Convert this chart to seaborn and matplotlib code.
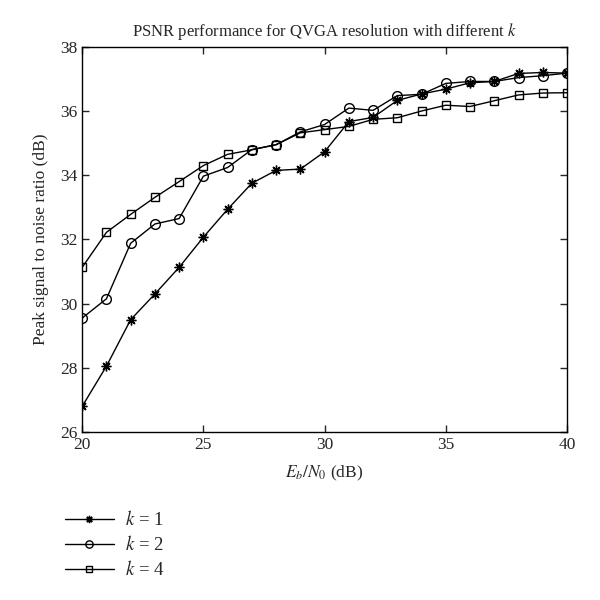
import matplotlib
matplotlib.use("Agg")
import matplotlib.pyplot as plt
import seaborn as sns
import numpy as np
import pandas as pd

# --- datos ---
ebn0 = list(range(20, 41))
psnr_k1 = [26.8, 28.05, 29.5, 30.3, 31.13, 32.07, 32.94, 33.75, 34.15, 34.19, 34.73,
           35.67, 35.8, 36.33, 36.53, 36.68, 36.88, 36.92, 37.17, 37.2, 37.18]
psnr_k2 = [29.55, 30.15, 31.88, 32.48, 32.65, 33.97, 34.24, 34.8, 34.95, 35.35, 35.58,
           36.09, 36.02, 36.48, 36.52, 36.86, 36.92, 36.92, 37.04, 37.1, 37.18]
psnr_k4 = [31.13, 32.22, 32.78, 33.31, 33.8, 34.3, 34.65, 34.79, 34.95, 35.32, 35.42,
           35.52, 35.74, 35.79, 36.0, 36.18, 36.14, 36.32, 36.5, 36.56, 36.57]
etiquetas = ["$k$ = 1", "$k$ = 2", "$k$ = 4"]
x_ticks = [20, 25, 30, 35, 40]
y_ticks = [26, 28, 30, 32, 34, 36, 38]

series = [psnr_k1, psnr_k2, psnr_k4]
marcadores = [(8, 2, 0), "o", "s"]
tamanos = [7, 7, 6]

sns.set_style("ticks")
plt.rcParams["font.family"] = ["Liberation Serif", "DejaVu Serif"]
plt.rcParams["mathtext.fontset"] = "stix"

fig = plt.figure(figsize=(6, 6), dpi=100)
ax = fig.add_axes([0.137, 0.28, 0.808, 0.642])

for vals, lab, mk, ms in zip(series, etiquetas, marcadores, tamanos):
    d = pd.DataFrame({"ebn0": ebn0, "psnr": vals})
    sns.lineplot(
        data=d, x="ebn0", y="psnr", ax=ax, label=lab,
        color="black", linewidth=1.0, marker=mk, markersize=ms,
        markerfacecolor="none", markeredgecolor="black", markeredgewidth=1.0,
    )

ax.set_xlim(20, 40)
ax.set_ylim(26, 38)
ax.set_xticks(x_ticks)
ax.set_yticks(y_ticks)
ax.tick_params(direction="in", top=True, right=True, labelsize=12.5, length=5, width=1)
for s in ax.spines.values():
    s.set_linewidth(1.0)
    s.set_color("black")

ax.set_title("PSNR performance for QVGA resolution with different $k$", fontsize=12, pad=8)
ax.set_xlabel("$E_b/N_0$ (dB)", fontsize=12.5, labelpad=8)
ax.set_ylabel("Peak signal to noise ratio (dB)", fontsize=12.5, labelpad=8)

handles, labels = ax.get_legend_handles_labels()
ax.get_legend().remove()
fig.legend(handles, labels, loc="upper left", bbox_to_anchor=(0.08, 0.178),
           frameon=False, fontsize=13.5, handlelength=2.6, labelspacing=0.32,
           handletextpad=0.6, markerscale=0.75)

plt.savefig("out.png", dpi=100)
